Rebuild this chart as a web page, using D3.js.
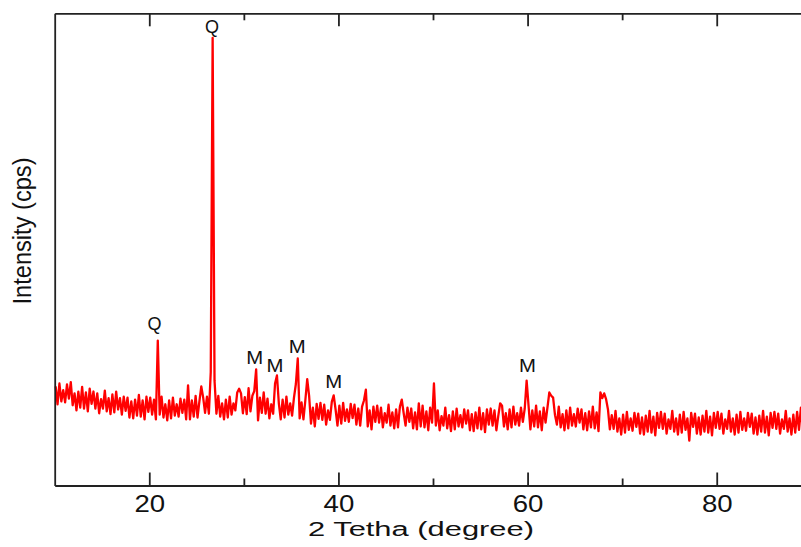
<!DOCTYPE html>
<html>
<head>
    <title>XRD pattern</title>
    <script src="https://cdn.jsdelivr.net/npm/d3@7"></script>
    <style>
        body { margin: 0; background: #fff; }
        text { font-family: "Liberation Sans", Arial, sans-serif; fill: #111; }
        .frame path, .frame line { stroke: #222; stroke-width: 1.8; }
    </style>
</head>
<body>
    <svg id="chart" width="801" height="547"></svg>
    <script>
        // scan starts at 10.1 deg, one reading every 0.2 deg (5 per degree, one row per degree)
        var startAngle = 10.1, stepAngle = 0.2;
        var intensity = [
            210, 172, 216, 178, 202,   // 10
            176, 214, 184, 219, 170,
            195, 159, 199, 165, 209,
            163, 197, 157, 205, 173,
            199, 163, 195, 153, 183,
            163, 201, 157, 185, 151,   // 15
            193, 155, 199, 161, 185,
            150, 188, 158, 186, 144,
            178, 142, 182, 148, 192,
            146, 180, 140, 188, 156,
            186, 150, 182, 140, 307,   // 20
            150, 188, 144, 172, 138,
            180, 142, 186, 148, 172,
            146, 184, 154, 182, 140,
            212, 140, 180, 146, 190,
            144, 178, 210, 186, 154,   // 25
            188, 152, 240, 948, 222,
            152, 190, 146, 174, 140,
            182, 144, 188, 150, 174,
            159, 197, 205, 195, 153,
            187, 151, 206, 157, 190,   // 30
            200, 246, 138, 186, 154,
            197, 152, 184, 142, 172,
            152, 216, 233, 174, 140,
            182, 144, 188, 150, 174,
            148, 186, 215, 269, 142,   // 35
            176, 140, 180, 225, 190,
            131, 165, 125, 173, 141,
            175, 139, 171, 129, 159,
            139, 177, 191, 161, 127,
            169, 131, 175, 137, 161,   // 40
            135, 173, 143, 171, 129,
            163, 127, 167, 180, 203,
            125, 159, 119, 167, 135,
            169, 133, 165, 123, 153,
            133, 171, 127, 155, 121,   // 45
            161, 123, 167, 182, 153,
            127, 165, 135, 163, 121,
            155, 119, 174, 125, 169,
            123, 157, 117, 165, 133,
            216, 127, 159, 117, 147,   // 50
            127, 165, 121, 149, 115,
            157, 119, 163, 125, 149,
            123, 161, 131, 159, 117,
            151, 115, 155, 121, 165,
            119, 153, 113, 161, 129,   // 55
            163, 127, 159, 117, 147,
            174, 169, 125, 153, 119,
            161, 123, 167, 129, 153,
            127, 165, 135, 163, 222,
            170, 119, 159, 125, 169,   // 60
            123, 157, 117, 165, 133,
            165, 197, 190, 186, 149,
            129, 167, 123, 151, 117,
            159, 121, 165, 127, 151,
            125, 163, 133, 161, 119,   // 65
            153, 117, 157, 123, 167,
            121, 155, 115, 197, 185,
            195, 183, 161, 119, 149,
            120, 158, 114, 142, 108,
            150, 112, 156, 118, 142,   // 70
            116, 154, 124, 152, 110,
            144, 108, 148, 114, 158,
            112, 146, 106, 154, 122,
            156, 120, 152, 110, 140,
            120, 158, 114, 142, 108,   // 75
            150, 112, 156, 118, 142,
            95, 154, 124, 152, 110,
            144, 108, 148, 114, 158,
            112, 146, 106, 154, 122,
            156, 120, 152, 110, 140,   // 80
            120, 158, 114, 142, 108,
            150, 112, 156, 118, 142,
            116, 154, 124, 152, 110,
            144, 108, 148, 114, 158,
            112, 146, 106, 154, 122,   // 85
            156, 120, 152, 110, 140,
            120, 158, 114, 142, 108,
            150, 112, 156, 118, 165,
            116, 154, 124, 152, 110
        ];

        // phase labels: Q = quartz, M = other phase
        var peakLabels = ["Q", "Q", "M", "M", "M", "M", "M"];
        var peakAngles = [26.63, 20.56, 31.14, 33.3, 35.63, 39.5, 60.0];
        var peakLabelLevels = [958, 329, 257, 241, 280, 206, 241];

        var majorTicks = [20, 40, 60, 80];
        var minorTicks = [30, 50, 70, 90];

        var svg = d3.select("#chart");

        var x = d3.scaleLinear().domain([10, 90]).range([54.7, 811.3]);
        var y = d3.scaleLinear().domain([0, 1000]).range([485.5, 13.3]);

        // pattern
        var line = d3.line()
            .x(function(d, i) { return x(startAngle + i * stepAngle); })
            .y(function(d) { return y(d); });

        svg.append("path")
            .datum(intensity)
            .attr("d", line)
            .attr("fill", "none")
            .attr("stroke", "#ff0000")
            .attr("stroke-width", 2.3)
            .attr("stroke-linejoin", "round");

        // frame: bottom axis with inward ticks
        var bottom = svg.append("g")
            .attr("class", "frame")
            .attr("transform", "translate(0," + y(0) + ")")
            .call(d3.axisBottom(x).tickValues(majorTicks).tickSizeInner(-13).tickSizeOuter(0));
        bottom.selectAll("text")
            .attr("y", 27)
            .attr("dy", 0)
            .attr("transform", "scale(1.15,1)")
            .style("font-size", "24px")
            .style("font-family", "'Liberation Sans', Arial, sans-serif")
            .style("fill", "#111");

        svg.append("g")
            .attr("class", "frame")
            .attr("transform", "translate(0," + y(0) + ")")
            .call(d3.axisBottom(x).tickValues(minorTicks).tickSizeInner(-7).tickSizeOuter(0).tickFormat(""))
            .select(".domain").remove();

        svg.append("g")
            .attr("class", "frame")
            .attr("transform", "translate(0," + y(1000) + ")")
            .call(d3.axisTop(x).tickValues(majorTicks).tickSizeInner(-13).tickSizeOuter(0).tickFormat(""));

        svg.append("g")
            .attr("class", "frame")
            .attr("transform", "translate(0," + y(1000) + ")")
            .call(d3.axisTop(x).tickValues(minorTicks).tickSizeInner(-7).tickSizeOuter(0).tickFormat(""))
            .select(".domain").remove();

        svg.append("g")
            .attr("class", "frame")
            .attr("transform", "translate(" + x(10) + ",0)")
            .call(d3.axisLeft(y).tickValues([]).tickSizeOuter(0));

        // axis titles
        svg.append("text")
            .attr("x", 421)
            .attr("y", 536)
            .attr("text-anchor", "middle")
            .attr("textLength", 226)
            .attr("lengthAdjust", "spacingAndGlyphs")
            .style("font-size", "20px")
            .text("2 Tetha (degree)");

        svg.append("text")
            .attr("transform", "translate(31,231) rotate(-90)")
            .attr("text-anchor", "middle")
            .attr("textLength", 147)
            .attr("lengthAdjust", "spacingAndGlyphs")
            .style("font-size", "26px")
            .text("Intensity (cps)");

        // peak labels
        svg.selectAll(".peak")
            .data(peakLabels)
            .enter().append("text")
            .attr("class", "peak")
            .attr("text-anchor", "middle")
            .attr("transform", function(d, i) {
                return "translate(" + x(peakAngles[i]) + "," + y(peakLabelLevels[i]) + ") scale(" + (d === "M" ? 1.13 : 1) + ",1)";
            })
            .style("font-size", "18px")
            .text(function(d) { return d; });
    </script>
</body>
</html>
